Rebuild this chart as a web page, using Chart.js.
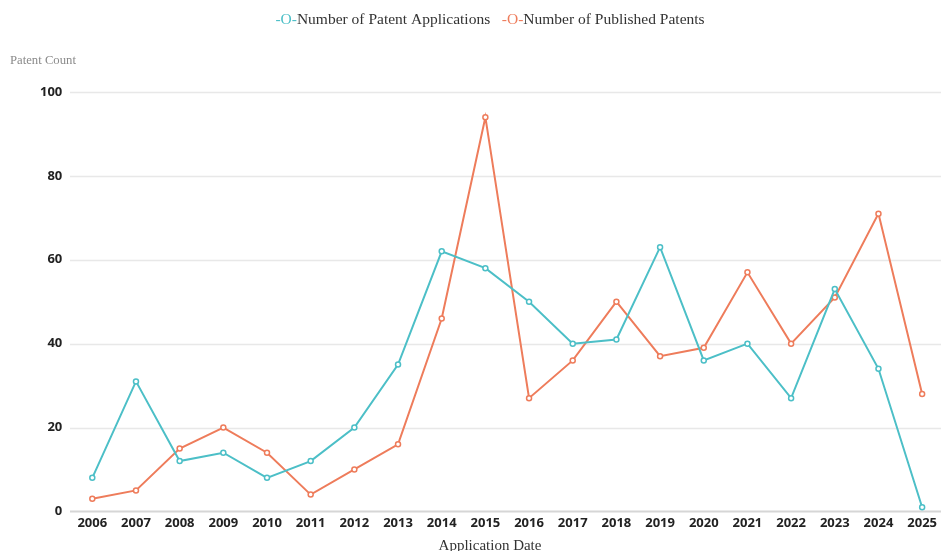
<!DOCTYPE html>
<html>
<head>
<meta charset="utf-8">
<script src="https://cdn.jsdelivr.net/npm/chart.js@4/dist/chart.umd.min.js"></script>
<style>
  html, body { margin: 0; padding: 0; background: #fff; }
  #wrap { width: 941px; height: 551px; position: relative; }
</style>
</head>
<body>
<div id="wrap"><canvas id="c" width="941" height="551"></canvas></div>
<script>
// Patent counts per application year
const years = ['2006','2007','2008','2009','2010','2011','2012','2013','2014','2015',
               '2016','2017','2018','2019','2020','2021','2022','2023','2024','2025'];
const applications = [8, 31, 12, 14, 8, 12, 20, 35, 62, 58, 50, 40, 41, 63, 36, 40, 27, 53, 34, 1];
const published    = [3, 5, 15, 20, 14, 4, 10, 16, 46, 94, 27, 36, 50, 37, 39, 57, 40, 51, 71, 28];
const yTicks = [0, 20, 40, 60, 80, 100];

const seriesNames = ['Number of Patent Applications', 'Number of Published Patents'];
const seriesColors = ['#4cbfc7', '#ee7c5b'];

const serif = '"Liberation Serif", "Times New Roman", serif';
const sans = '"Open Sans", "Noto Sans", sans-serif';

// Horizontal grid lines spanning the full plot band, plus legend and axis titles
const decor = {
  id: 'decor',
  beforeDatasetsDraw(chart) {
    const ctx = chart.ctx;
    const y = chart.scales.y;
    ctx.save();
    yTicks.forEach(v => {
      const py = Math.round(y.getPixelForValue(v)) + 0.5;
      ctx.strokeStyle = v === 0 ? '#d6d6d6' : '#e8e8e8';
      ctx.lineWidth = v === 0 ? 2 : 1.5;
      ctx.beginPath();
      ctx.moveTo(70, py);
      ctx.lineTo(chart.width, py);
      ctx.stroke();
    });
    ctx.restore();
  },
  afterDraw(chart) {
    const ctx = chart.ctx;
    ctx.save();
    // legend
    ctx.font = '15.5px ' + serif;
    ctx.textBaseline = 'middle';
    const parts = [];
    seriesNames.forEach((n, i) => {
      parts.push({ t: '-O-', c: seriesColors[i] });
      parts.push({ t: n, c: '#333333' });
      if (i < seriesNames.length - 1) parts.push({ t: '   ', c: '#333' });
    });
    const total = parts.reduce((s, p) => s + ctx.measureText(p.t).width, 0);
    let x = 490 - total / 2;
    parts.forEach(p => {
      ctx.fillStyle = p.c;
      ctx.fillText(p.t, x, 20);
      x += ctx.measureText(p.t).width;
    });
    // y axis title
    ctx.font = '12.7px ' + serif;
    ctx.fillStyle = '#8a8a8a';
    ctx.textAlign = 'left';
    ctx.fillText('Patent Count', 10, 61);
    // x axis title
    ctx.font = '15px ' + serif;
    ctx.fillStyle = '#333333';
    ctx.textAlign = 'center';
    ctx.fillText('Application Date', 490, 546);
    ctx.restore();
  }
};

new Chart(document.getElementById('c'), {
  type: 'line',
  data: {
    labels: years,
    datasets: [
      {
        label: seriesNames[0],
        data: applications,
        borderColor: seriesColors[0],
        backgroundColor: '#ffffff',
        borderWidth: 2,
        pointRadius: 2.5,
        pointBorderWidth: 1.5,
        pointBackgroundColor: '#ffffff',
        pointBorderColor: seriesColors[0],
        tension: 0
      },
      {
        label: seriesNames[1],
        data: published,
        borderColor: seriesColors[1],
        backgroundColor: '#ffffff',
        borderWidth: 2,
        pointRadius: 2.5,
        pointBorderWidth: 1.5,
        pointBackgroundColor: '#ffffff',
        pointBorderColor: seriesColors[1],
        tension: 0
      }
    ]
  },
  options: {
    responsive: false,
    animation: false,
    layout: { autoPadding: false, padding: { top: 92, left: 10, right: 14, bottom: 16 } },
    plugins: { legend: { display: false }, tooltip: { enabled: false } },
    scales: {
      x: {
        offset: false,
        grid: { display: false, drawTicks: false },
        border: { display: false },
        ticks: {
          color: '#222222',
          font: { family: sans, size: 13, weight: 'bold' },
          padding: 4,
          maxRotation: 0,
          autoSkip: false
        }
      },
      y: {
        min: 0,
        max: 100,
        afterBuildTicks(axis) { axis.ticks = yTicks.map(v => ({ value: v })); },
        grid: { display: false, drawTicks: false },
        border: { display: false },
        ticks: {
          color: '#222222',
          font: { family: sans, size: 13, weight: 'bold' },
          padding: 30
        }
      }
    }
  },
  plugins: [decor]
});
</script>
</body>
</html>
